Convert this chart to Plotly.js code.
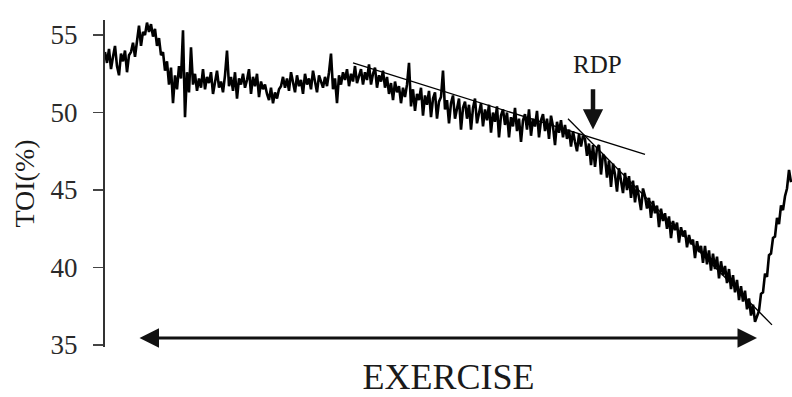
<!DOCTYPE html>
<html>
<head>
<meta charset="utf-8">
<script src="https://cdn.plot.ly/plotly-3.0.1.min.js"></script>
<style>html,body{margin:0;padding:0;background:#fff}#chart{width:792px;height:397px}</style>
</head>
<body>
<div id="chart"></div>
<script>
// Sampling step of the TOI recording (arbitrary time units)
const sampleStep = 2;

// TOI (%) values
const toi = [
  53.9, 53.2, 54.1, 52.8, 53.6, 54.3, 53.0, 52.4, 53.8, 53.3,
  54.0, 52.6, 53.7, 53.9, 54.5, 53.6, 54.6, 55.6, 54.3, 55.2,
  55.0, 55.8, 55.2, 55.7, 54.9, 55.4, 54.3, 54.8, 53.7, 53.9,
  52.7, 53.3, 51.8, 52.9, 50.6, 52.4, 51.5, 53.0, 52.2, 55.3,
  49.7, 52.6, 51.3, 54.2, 51.8, 52.5, 51.4, 52.2, 51.6, 52.8,
  51.5, 52.3, 51.9, 52.6, 51.2, 52.1, 52.7, 51.6, 52.0, 51.3,
  52.4, 54.0, 51.7, 52.3, 51.4, 52.6, 50.9, 52.2, 51.8, 52.5,
  51.6, 52.1, 52.8, 51.2, 52.3, 51.7, 52.5, 51.0, 52.0, 51.5,
  51.8, 51.2, 50.8, 51.6, 50.6, 51.3, 50.9, 51.5, 51.7, 52.3,
  51.6, 52.2, 51.4, 52.6, 51.9, 51.3, 52.4, 51.7, 52.1, 51.2,
  52.5, 51.8, 52.2, 51.5, 52.7, 51.9, 51.3, 52.4, 52.0, 51.6,
  52.3, 51.7, 52.6, 53.8, 51.5, 52.2, 50.6, 52.4, 51.8, 52.6,
  52.1, 52.8, 51.7, 52.5, 52.0, 53.0, 51.9, 52.4, 52.8, 51.8,
  52.6, 52.1, 53.1, 51.8, 52.5, 52.9, 51.6, 52.4, 52.0, 52.7,
  51.6, 52.3, 51.2, 51.9, 50.8, 52.0, 51.3, 51.7, 50.6, 51.6,
  51.0, 51.8, 53.2, 50.4, 51.5, 50.1, 51.2, 50.8, 51.6, 49.8,
  51.1, 50.5, 51.4, 49.7, 50.9, 51.3, 49.6, 50.7, 51.0, 52.7,
  50.2, 50.8, 49.3, 50.6, 51.1, 49.6, 50.4, 50.9, 48.9, 50.3,
  50.7, 49.6, 50.5, 48.9, 50.3, 50.9, 49.3, 50.1, 50.6, 49.1,
  50.2, 49.5, 50.5, 48.7, 50.0, 49.4, 50.4, 48.4, 49.8, 50.2,
  49.2, 50.0, 48.4, 49.7, 49.1, 50.3, 48.8, 49.6, 48.1, 49.5,
  49.9, 48.9, 50.2, 48.5, 49.6, 49.1, 50.1, 48.4, 49.5, 49.9,
  48.8, 49.6, 48.3, 49.8, 49.1, 47.9, 49.4, 48.7, 49.5, 48.4,
  49.2, 48.3, 48.9, 47.8, 48.8, 48.1, 47.5, 48.6, 47.8, 48.5,
  48.3, 47.2, 48.0, 46.6, 47.9, 46.5, 47.7, 47.9, 46.0, 47.3,
  47.1, 45.8, 46.9, 45.2, 46.7, 46.0, 44.9, 46.4, 45.7, 44.8,
  46.1, 45.0, 45.9, 44.5, 45.6, 44.2, 45.3, 44.6, 43.7, 45.1,
  44.6, 43.8, 44.5, 43.2, 44.3, 43.5, 44.0, 42.6, 43.8, 43.0,
  43.5, 42.5, 43.3, 41.9, 43.0, 42.4, 42.9, 41.6, 42.6, 42.0,
  42.4, 41.3, 42.1, 41.5, 41.8, 40.6, 41.7, 41.0, 41.4, 40.3,
  41.4, 40.2, 41.1, 39.8, 40.9, 39.9, 40.7, 39.3, 40.4, 39.5,
  40.1, 39.0, 39.9, 38.6, 39.5, 38.4, 39.2, 37.9, 38.8, 37.8,
  38.5, 37.3, 38.0, 36.9, 37.6, 36.5, 36.8, 37.2, 38.3, 38.4,
  39.6, 39.4, 40.8, 40.9, 41.9, 42.0, 43.2, 42.8, 44.0, 43.7,
  44.6, 45.1, 46.3, 45.5
];
const time = toi.map((_, i) => i * sampleStep);

// Fitted regression lines (start / end time, TOI)
const fit1Time = [248, 540];
const fit1Toi = [53.2, 47.3];
const fit2Time = [463, 667];
const fit2Toi = [49.6, 36.3];

// Annotation anchors
const rdpTime = 488;
const rdpLabelToi = 53.1;
const rdpArrowFrom = 51.6;
const rdpArrowTo = 48.9;
const exerciseStart = 33;
const exerciseEnd = 652;
const exerciseToi = 35.45;

const yTicks = [35, 40, 45, 50, 55];

const serif = "Liberation Serif, Times New Roman, serif";
const ink = "#1a1a1a";

const traces = [
  {x: time, y: toi, type: "scatter", mode: "lines",
   line: {color: "#000", width: 2.6}, hoverinfo: "skip", showlegend: false},
  {x: fit1Time, y: fit1Toi, type: "scatter", mode: "lines",
   line: {color: "#000", width: 1.3}, showlegend: false},
  {x: fit2Time, y: fit2Toi, type: "scatter", mode: "lines",
   line: {color: "#000", width: 1.3}, showlegend: false}
];

const layout = {
  width: 792, height: 397,
  margin: {l: 105, r: 0, t: 20, b: 50},
  paper_bgcolor: "#fff", plot_bgcolor: "#fff",
  font: {family: serif, color: ink},
  showlegend: false,
  xaxis: {
    range: [0, 687], showgrid: false, zeroline: false, showline: false,
    showticklabels: false, ticks: "",
    title: {text: "EXERCISE", font: {family: serif, size: 36, color: ink}, standoff: 20}
  },
  yaxis: {
    range: [34.87, 55.97], tickvals: yTicks, ticktext: yTicks.map(String),
    showgrid: false, zeroline: false, showline: true, linecolor: "#333", linewidth: 2,
    ticks: "outside", ticklen: 10, tickwidth: 1.5, tickcolor: "#444",
    ticklabelstandoff: 10,
    tickfont: {family: serif, size: 27, color: "#2a2a2a"},
    title: {text: "TOI(%)", font: {family: serif, size: 28, color: ink}, standoff: 8}
  },
  annotations: [
    {x: rdpTime + 4, y: rdpLabelToi, xref: "x", yref: "y", text: "RDP", showarrow: false,
     font: {family: serif, size: 25, color: ink}},
    {x: rdpTime, y: rdpArrowTo, ax: rdpTime, ay: rdpArrowFrom, xref: "x", yref: "y",
     axref: "x", ayref: "y", text: "", showarrow: true, arrowhead: 2, arrowsize: 0.9,
     arrowwidth: 4.5, arrowcolor: "#111", standoff: 0},
    {x: exerciseEnd, y: exerciseToi, ax: exerciseStart, ay: exerciseToi, xref: "x", yref: "y",
     axref: "x", ayref: "y", text: "", showarrow: true, arrowhead: 2, arrowside: "end+start",
     arrowsize: 1.3, arrowwidth: 3, arrowcolor: "#111", standoff: 0, startstandoff: 0}
  ]
};

Plotly.newPlot("chart", traces, layout, {displayModeBar: false, staticPlot: true});
</script>
</body>
</html>
